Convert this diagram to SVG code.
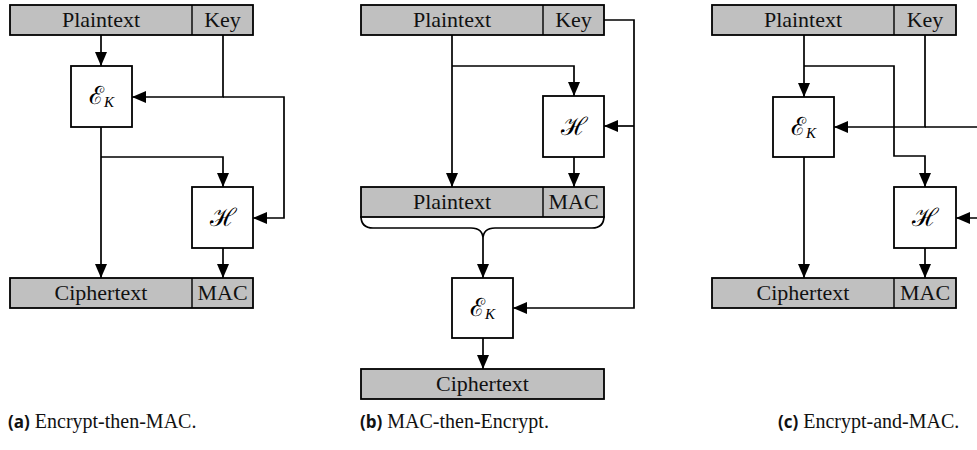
<svg xmlns="http://www.w3.org/2000/svg" width="977" height="450" viewBox="0 0 977 450">
<defs>
<marker id="arr" markerUnits="userSpaceOnUse" markerWidth="14" markerHeight="12" refX="14" refY="6" orient="auto">
<path d="M0,0 L14,6 L0,12 z" fill="#000"/>
</marker>
<style>
.bar{fill:#c0c0c0;stroke:#000;stroke-width:1.8}
.box{fill:#fff;stroke:#000;stroke-width:1.8}
.div{stroke:#000;stroke-width:1.4}
.lbl{font-family:"Liberation Serif",serif;font-size:22px;fill:#111;text-anchor:middle}
.math{font-family:"DejaVu Serif",serif;font-size:25px;fill:#000;text-anchor:middle}
.sub{font-family:"Liberation Serif",serif;font-style:italic;font-size:15px}
.con{fill:none;stroke:#000;stroke-width:1.7}
.arr{marker-end:url(#arr)}
.cap{font-family:"Liberation Serif",serif;font-size:20px;fill:#111}
.capb{font-family:"Open Sans",sans-serif;font-weight:700;font-size:17px}
</style>
</defs>
<rect width="977" height="450" fill="#fff"/>

<g id="connectors">
<!-- (a) -->
<path class="con arr" d="M101,35 V66"/>
<path class="con arr" d="M223,35 V97 H132"/>
<path class="con arr" d="M223,97 H284 V218 H253"/>
<path class="con arr" d="M101,127 V278"/>
<path class="con arr" d="M101,157 H223 V187"/>
<path class="con arr" d="M223,248 V278"/>
<!-- (b) -->
<path class="con arr" d="M452,35 V187"/>
<path class="con arr" d="M452,66 H574 V96"/>
<path class="con arr" d="M604,20 H634 V308 H513"/>
<path class="con arr" d="M634,126 H604"/>
<path class="con arr" d="M574,157 V187"/>
<path class="con" d="M361,216 Q361,228 373,228 H471 Q483,228 483,239 Q483,228 495,228 H592 Q604,228 604,216"/>
<path class="con arr" d="M483,239 V278"/>
<path class="con arr" d="M483,338 V369"/>
<!-- (c) -->
<path class="con arr" d="M804,35 V97"/>
<path class="con arr" d="M804,66 H894 V156 H925 V187"/>
<path class="con arr" d="M925,35 V127 H834"/>
<path class="con arr" d="M925,127 H990 V218 H956"/>
<path class="con arr" d="M804,157 V278"/>
<path class="con arr" d="M925,248 V278"/>
</g>

<!-- Panel (a) -->
<g id="a-input">
<rect class="bar" x="10" y="5" width="243" height="30"/>
<line class="div" x1="192" y1="5" x2="192" y2="35"/>
<text class="lbl" x="101" y="27">Plaintext</text>
<text class="lbl" x="222.5" y="27">Key</text>
</g>
<g id="a-enc">
<rect class="box" x="71" y="66" width="61" height="61"/>
<text class="math" x="101.5" y="104">ℰ<tspan class="sub" dy="3">K</tspan></text>
</g>
<g id="a-hash">
<rect class="box" x="192" y="187" width="61" height="61"/>
<text class="math" x="222.5" y="226">ℋ</text>
</g>
<g id="a-output">
<rect class="bar" x="10" y="278" width="243" height="30"/>
<line class="div" x1="192" y1="278" x2="192" y2="308"/>
<text class="lbl" x="101" y="300">Ciphertext</text>
<text class="lbl" x="222.5" y="300">MAC</text>
</g>

<!-- Panel (b) -->
<g id="b-input">
<rect class="bar" x="361" y="5" width="243" height="30"/>
<line class="div" x1="543" y1="5" x2="543" y2="35"/>
<text class="lbl" x="452" y="27">Plaintext</text>
<text class="lbl" x="573.5" y="27">Key</text>
</g>
<g id="b-hash">
<rect class="box" x="543" y="96" width="61" height="61"/>
<text class="math" x="573.5" y="135">ℋ</text>
</g>
<g id="b-mid">
<rect class="bar" x="361" y="187" width="243" height="30"/>
<line class="div" x1="543" y1="187" x2="543" y2="217"/>
<text class="lbl" x="452" y="209">Plaintext</text>
<text class="lbl" x="573.5" y="209">MAC</text>
</g>
<g id="b-enc">
<rect class="box" x="452" y="278" width="61" height="60"/>
<text class="math" x="482.5" y="316">ℰ<tspan class="sub" dy="3">K</tspan></text>
</g>
<g id="b-output">
<rect class="bar" x="361" y="369" width="243" height="30"/>
<text class="lbl" x="482.5" y="391">Ciphertext</text>
</g>

<!-- Panel (c) -->
<g id="c-input">
<rect class="bar" x="712" y="5" width="244" height="30"/>
<line class="div" x1="894" y1="5" x2="894" y2="35"/>
<text class="lbl" x="803" y="27">Plaintext</text>
<text class="lbl" x="925" y="27">Key</text>
</g>
<g id="c-enc">
<rect class="box" x="773" y="97" width="61" height="60"/>
<text class="math" x="803.5" y="135">ℰ<tspan class="sub" dy="3">K</tspan></text>
</g>
<g id="c-hash">
<rect class="box" x="894" y="187" width="62" height="61"/>
<text class="math" x="925" y="226">ℋ</text>
</g>
<g id="c-output">
<rect class="bar" x="712" y="278" width="244" height="30"/>
<line class="div" x1="894" y1="278" x2="894" y2="308"/>
<text class="lbl" x="803" y="300">Ciphertext</text>
<text class="lbl" x="925" y="300">MAC</text>
</g>

<!-- Captions -->
<g id="captions">
<text class="cap" x="8" y="428"><tspan class="capb">(a)</tspan> Encrypt-then-MAC.</text>
<text class="cap" x="360" y="428"><tspan class="capb">(b)</tspan> MAC-then-Encrypt.</text>
<text class="cap" x="778" y="428"><tspan class="capb">(c)</tspan> Encrypt-and-MAC.</text>
</g>
</svg>
